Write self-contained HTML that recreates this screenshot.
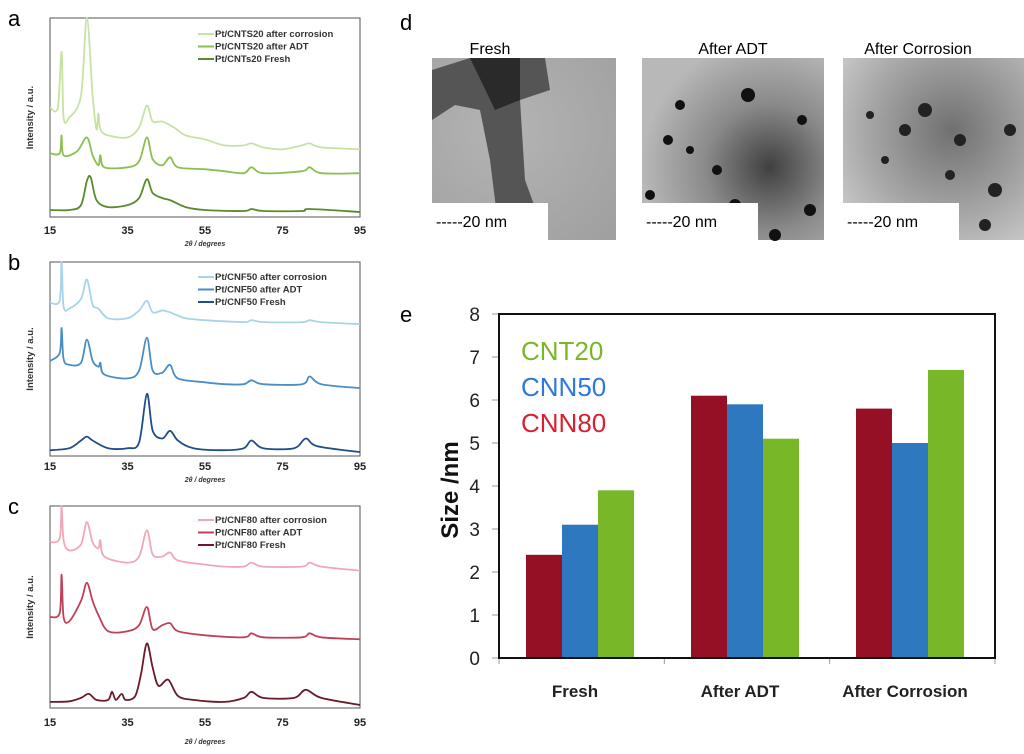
<!DOCTYPE html>
<html><head><meta charset="utf-8"><style>
body{margin:0;background:#fff;}
svg{display:block;font-family:"Liberation Sans",Arial,sans-serif;}
</style></head><body>
<svg id="fig" width="1024" height="754" viewBox="0 0 1024 754">
<g id="xrd"></g>
<g id="tem">
 <text x="400" y="30" font-size="22">d</text>
 <defs>
  <radialGradient id="g1" cx="0.4" cy="0.4" r="0.8"><stop offset="0" stop-color="#b4b4b4"/><stop offset="1" stop-color="#a0a0a0"/></radialGradient>
  <radialGradient id="g2" cx="0.7" cy="0.6" r="0.7"><stop offset="0" stop-color="#404040"/><stop offset="0.5" stop-color="#8a8a8a"/><stop offset="1" stop-color="#b8b8b8"/></radialGradient>
  <radialGradient id="g3" cx="0.6" cy="0.4" r="0.8"><stop offset="0" stop-color="#707070"/><stop offset="0.6" stop-color="#a8a8a8"/><stop offset="1" stop-color="#d0d0d0"/></radialGradient>
 </defs>
 <text x="490" y="54" font-size="16" text-anchor="middle">Fresh</text>
 <text x="733" y="54" font-size="16" text-anchor="middle">After ADT</text>
 <text x="918" y="54" font-size="16" text-anchor="middle">After Corrosion</text>
 <g>
  <rect x="432" y="58" width="184" height="182" fill="url(#g1)"/>
  <path d="M432,70 L470,58 L545,58 L550,90 L520,100 L525,180 L545,235 L500,240 L490,160 L480,110 L455,105 L432,120 Z" fill="#555"/>
  <path d="M470,58 L520,58 L520,100 L495,110 Z" fill="#2a2a2a"/>
  <rect x="432" y="203" width="116" height="37" fill="#fff"/>
  <text x="436" y="227" font-size="16">-----20 nm</text>
 </g>
 <g>
  <rect x="642" y="58" width="182" height="182" fill="url(#g2)"/>
  <circle cx="680" cy="105" r="5" fill="#111"/><circle cx="668" cy="140" r="5" fill="#111"/><circle cx="717" cy="170" r="5" fill="#111"/><circle cx="748" cy="95" r="7" fill="#111"/><circle cx="802" cy="120" r="5" fill="#111"/><circle cx="735" cy="205" r="6" fill="#111"/><circle cx="690" cy="150" r="4" fill="#111"/><circle cx="650" cy="195" r="5" fill="#111"/><circle cx="810" cy="210" r="6" fill="#111"/><circle cx="775" cy="235" r="6" fill="#111"/>
  <rect x="642" y="203" width="116" height="37" fill="#fff"/>
  <text x="646" y="227" font-size="16">-----20 nm</text>
 </g>
 <g>
  <rect x="843" y="58" width="181" height="182" fill="url(#g3)"/>
  <circle cx="870" cy="115" r="4" fill="#222"/><circle cx="905" cy="130" r="6" fill="#222"/><circle cx="925" cy="110" r="7" fill="#222"/><circle cx="960" cy="140" r="6" fill="#222"/><circle cx="950" cy="175" r="5" fill="#222"/><circle cx="995" cy="190" r="7" fill="#222"/><circle cx="885" cy="160" r="4" fill="#222"/><circle cx="1010" cy="130" r="6" fill="#222"/><circle cx="985" cy="225" r="6" fill="#222"/>
  <rect x="843" y="203" width="116" height="37" fill="#fff"/>
  <text x="847" y="227" font-size="16">-----20 nm</text>
 </g>
</g>
<g id="bars"></g>
</svg>
<script>
// ===== Bar chart (e) data =====
const barCategories = ["Fresh", "After ADT", "After Corrosion"];
const seriesNames = ["CNN80", "CNN50", "CNT20"];
const cnn80Values = [2.4, 6.1, 5.8];
const cnn50Values = [3.1, 5.9, 5.0];
const cnt20Values = [3.9, 5.1, 6.7];
const yTickLabels = [0, 1, 2, 3, 4, 5, 6, 7, 8];

// ===== XRD data: [2theta, relative intensity 0-100] =====
const xTickLabels = [15, 35, 55, 75, 95];
const aCorrosion = [[15,55],[17,55],[18,83],[18.5,50],[20,50],[23,61],[24.5,100],[26,61],[27,44],[27.5,52],[28,44],[30,41],[35,40],[38,45],[40,56],[41.5,48],[44,48],[47,45],[50,41],[55,39],[60,36],[65,36],[67,37],[70,35],[75,34],[80,36],[82,37],[85,35],[95,34]];
const aADT = [[15,32],[17.5,32],[18,41],[18.5,31],[22,33],[24.5,40],[26,31],[27.5,26],[28,31],[29,25],[35,25],[38,28],[40,40],[41.5,29],[44,26],[46,30],[48,25],[55,24],[60,23],[65,22],[67,25],[70,22],[80,23],[82,25],[85,22],[95,22]];
const aFresh = [[15,3.5],[20,3.5],[23,6],[24.5,18],[25.5,20],[27,8.5],[30,5],[35,6],[38,9.5],[40,19],[41.5,12],[44,9.5],[46,8.5],[50,5],[55,3.5],[65,3],[67,4],[70,3],[80,3],[82,4],[95,2.5]];
const bCorrosion = [[15,79],[17.5,80],[18,100],[18.5,77],[20,76],[23,81],[24.5,91],[26,78],[27.5,76],[30,71],[35,71],[38,75],[40,80],[41.5,74],[44,75],[46,74],[50,71],[55,70],[65,69],[67,70],[70,69],[80,69],[82,70],[85,69],[95,68]];
const bADT = [[15,49],[17.5,53],[18,66],[18.5,50],[20,47],[23,48],[24.5,60],[26,49],[27.5,46],[28,48],[29,42],[35,40],[38,44],[40,61],[41.5,44],[44,43],[46,47],[48,40],[55,38],[60,37],[65,37],[67,39],[70,37],[80,37],[82,41],[85,37],[95,35]];
const bFresh = [[15,3],[20,4],[23,8],[24.5,10],[26,8],[30,4],[35,4],[38,7],[40,32],[41.5,13],[44,9],[46,13],[48,8],[52,4],[60,3],[65,4],[67,8],[70,4],[78,4],[81,9],[84,5],[95,2]];
const cCorrosion = [[15,82],[17.5,84],[18,100],[18.5,83],[20,78],[23,81],[24.5,92],[26,82],[27.5,79],[28,83],[29,75],[35,72],[38,75],[40,88],[41.5,76],[44,75],[46,77],[48,73],[55,71],[60,70],[65,70],[67,72],[70,70],[80,70],[82,72],[85,70],[95,68]];
const cADT = [[15,45],[17.5,47],[18,66],[18.5,45],[20,43],[23,53],[24.5,62],[26,53],[27.5,46],[30,38],[35,38],[38,41],[40,50],[41.5,39],[44,41],[46,42],[48,38],[55,36],[65,35],[67,37],[70,35],[80,35],[82,37],[85,35],[95,34]];
const cFresh = [[15,3],[20,3.3],[23,5],[25,7],[27,4],[30,4],[31,8],[32,4],[33.5,7],[34.5,4],[37,6],[38.5,17],[40,32],[41.5,20],[43,11],[45.5,14],[48,6],[52,4],[60,3],[65,5],[67,8],[70,5],[78,5],[81,9],[85,5],[95,1.5]];

const NS = "http://www.w3.org/2000/svg";
function mk(tag, attrs, parent, txt){
  const e = document.createElementNS(NS, tag);
  for (const k in attrs) e.setAttribute(k, attrs[k]);
  if (txt !== undefined) e.textContent = txt;
  parent.appendChild(e);
  return e;
}
function smoothPath(pts){
  let d = "M" + pts[0][0].toFixed(1) + "," + pts[0][1].toFixed(1);
  for (let i = 0; i < pts.length - 1; i++){
    const p0 = pts[Math.max(0, i-1)], p1 = pts[i], p2 = pts[i+1], p3 = pts[Math.min(pts.length-1, i+2)];
    const t = 0.16;
    const c1 = [p1[0] + (p2[0]-p0[0])*t, p1[1] + (p2[1]-p0[1])*t];
    const c2 = [p2[0] - (p3[0]-p1[0])*t, p2[1] - (p3[1]-p1[1])*t];
    d += " C" + c1[0].toFixed(1) + "," + c1[1].toFixed(1) + " " + c2[0].toFixed(1) + "," + c2[1].toFixed(1) + " " + p2[0].toFixed(1) + "," + p2[1].toFixed(1);
  }
  return d;
}

// ===== XRD panels =====
const xrd = document.getElementById("xrd");
const panels = [
  {label:"a", top:18, bottom:217, tickY:234, xlab:246, legY:37, cols:["#c8e2a2","#8cbf4f","#5a8a2a"], names:["Pt/CNTS20 after corrosion","Pt/CNTS20 after ADT","Pt/CNTs20 Fresh"], series:[aCorrosion,aADT,aFresh]},
  {label:"b", top:262, bottom:456, tickY:470, xlab:482, legY:280, cols:["#a8d4ea","#4a8ec8","#1f4e8a"], names:["Pt/CNF50 after corrosion","Pt/CNF50 after ADT","Pt/CNF50 Fresh"], series:[bCorrosion,bADT,bFresh]},
  {label:"c", top:506, bottom:708, tickY:726, xlab:744, legY:523, cols:["#f0a8b8","#c04058","#6a1a2a"], names:["Pt/CNF80 after corrosion","Pt/CNF80 after ADT","Pt/CNF80 Fresh"], series:[cCorrosion,cADT,cFresh]}
];
const X0 = 50, X1 = 360;
function xScale(v){ return X0 + (v - 15) / 80 * (X1 - X0); }
panels.forEach(p => {
  const g = mk("g", {}, xrd);
  
  
  const yS = v => p.bottom - v / 100 * (p.bottom - p.top);
  const lab = mk("text", {x:8, y:p.top+8, "font-size":22}, g, p.label);
  
  
  const box = mk("rect", {x:X0, y:p.top, width:X1-X0, height:p.bottom-p.top, fill:"none", stroke:"#555", "stroke-width":1}, g);
  
  
  xTickLabels.forEach(t => {
    const tx = mk("text", {x:xScale(t), y:p.tickY, "font-size":11, "font-weight":"bold", "text-anchor":"middle", fill:"#222"}, g, t);
    
    
  });
  const xl = mk("text", {x:205, y:p.xlab, "font-size":7, "font-weight":"bold", "font-style":"italic", "text-anchor":"middle", fill:"#333"}, g, "2θ / degrees");
  
  
  const cy = (p.top + p.bottom) / 2;
  const yl = mk("text", {x:33, y:cy, "font-size":9.5, "font-weight":"bold", "text-anchor":"middle", fill:"#333", transform:"rotate(-90 33 "+cy+")"}, g, "Intensity / a.u.");
  
  
  p.series.forEach((s, i) => {
    const pts = s.map(pt => [xScale(pt[0]), yS(pt[1])]);
    const path = mk("path", {d:smoothPath(pts), fill:"none", stroke:p.cols[i], "stroke-width":1.8, "stroke-linejoin":"round"}, g);
    
    
    const ly = p.legY + i * 12.5;
    const lg = mk("g", {}, g);
    
    
    mk("line", {x1:198, x2:214, y1:ly-3, y2:ly-3, stroke:p.cols[i], "stroke-width":2}, lg);
    mk("text", {x:215, y:ly, "font-size":9.5, "font-weight":"bold", fill:"#333"}, lg, p.names[i]);
  });
});

// ===== Bar chart (e) =====
const bars = document.getElementById("bars");
const BL = 499, BR = 995, BT = 314, BB = 658;
function yB(v){ return BB - v / 8 * (BB - BT); }
function catCenter(i){ return 580 + i * 165; }
const barW = 36;
const el = mk("text", {x:400, y:322, "font-size":22}, bars, "e");


yTickLabels.forEach(t => {
  const tl = mk("text", {x:480, y:yB(t)+7, "font-size":19, "text-anchor":"end", fill:"#222"}, bars, t);
  
  
  mk("line", {x1:492, x2:BL, y1:yB(t), y2:yB(t), stroke:"#999"}, bars);
});
const seriesVals = [cnn80Values, cnn50Values, cnt20Values];
const seriesCols = ["#951025", "#2e78c0", "#78b828"];
barCategories.forEach((c, i) => {
  seriesVals.forEach((vals, k) => {
    const x = catCenter(i) - 1.5 * barW + k * barW;
    const r = mk("rect", {x:x, y:yB(vals[i]), width:barW, height:BB - yB(vals[i]), fill:seriesCols[k]}, bars);
    
    
  });
  const cl = mk("text", {x:catCenter(i) - 5, y:697, "font-size":17, "font-weight":"bold", "text-anchor":"middle", fill:"#222"}, bars, c);
  
  
});
[0,1,2,3].forEach(i => {
  const x = BL + i * (BR - BL) / 3;
  mk("line", {x1:x, x2:x, y1:BB, y2:BB+6, stroke:"#999"}, bars);
});
const frame = mk("rect", {x:BL, y:BT, width:BR-BL, height:BB-BT, fill:"none", stroke:"#111", "stroke-width":2}, bars);


const ytl = mk("text", {x:458, y:490, "font-size":24, "font-weight":"bold", "text-anchor":"middle", fill:"#111", transform:"rotate(-90 458 490)"}, bars, "Size /nm");


const legNames = ["CNT20","CNN50","CNN80"];
const legCols = ["#78b828","#2e78dc","#d82030"];
legNames.forEach((n, i) => {
  const t = mk("text", {x:521, y:360 + i * 36, "font-size":26, fill:legCols[i]}, bars, n);
  
  
});
</script>
</body></html>
